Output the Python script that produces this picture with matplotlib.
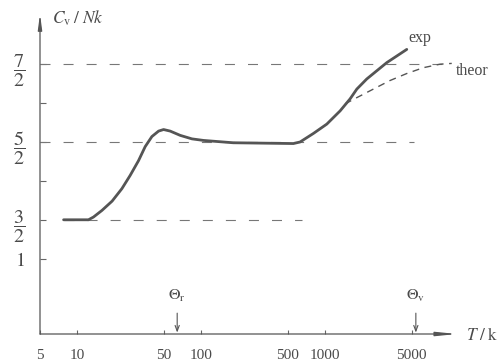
import numpy as np
import matplotlib
matplotlib.use("Agg")
import matplotlib.pyplot as plt

plt.rcParams["font.family"] = ["Liberation Serif", "DejaVu Serif"]
plt.rcParams["mathtext.fontset"] = "stix"
plt.rcParams["lines.scale_dashes"] = False

# measured heat capacity of the diatomic gas (T in K, Cv/Nk)
T_exp = [7.75, 12.3, 13.5, 15.8, 19.1, 22.9, 26.7, 31.2, 35.3, 40.0, 45.3,
         49.7, 56.2, 67.7, 84.2, 104.4, 181, 555, 628, 805, 1032, 1322,
         1592, 1803, 2169, 2611, 3145, 3788, 4561]
cv_exp = [1.5, 1.5, 1.535, 1.62, 1.74, 1.9, 2.07, 2.26, 2.44, 2.57, 2.64,
          2.66, 2.64, 2.585, 2.54, 2.52, 2.49, 2.48, 2.5, 2.61, 2.73, 2.9,
          3.055, 3.18, 3.31, 3.415, 3.52, 3.605, 3.69]

# theoretical vibrational contribution
T_theor = [1449, 1803, 2452, 3342, 4561, 6209, 8459, 10520]
cv_theor = [2.99, 3.07, 3.18, 3.29, 3.38, 3.455, 3.5, 3.51]

# classical plateaus and their extent along T
plateau_vals = [1.5, 2.5, 3.5]
plateau_T0 = [7.75, 5.0, 5.0]
plateau_T1 = [650, 5200, 10500]

theta_r = 64
theta_v = 5400

xticks = [5, 10, 50, 100, 500, 1000, 5000]
yticks = [1, 1.5, 2, 2.5, 3, 3.5]
ylabels = [r"$1$", r"$\dfrac{3}{2}$", "", r"$\dfrac{5}{2}$", "", r"$\dfrac{7}{2}$"]

ink = "#4a4a4a"
fig = plt.figure(figsize=(5.0, 3.64), dpi=100)
ax = fig.add_axes([40 / 500, 30 / 364, 417 / 500, 320 / 364])
ax.set_xscale("log")
ax.set_xlim(5, 11600)
ax.set_ylim(0.032, 4.145)
for s in ax.spines.values():
    s.set_visible(False)

# axes with arrow heads
ax.annotate("", xy=(1, 0), xytext=(0, 0), xycoords="axes fraction",
            arrowprops=dict(arrowstyle="-|>,head_length=1.2,head_width=0.12",
                            color="#555555", lw=0.9, shrinkA=0, shrinkB=0))
ax.annotate("", xy=(0, 1), xytext=(0, 0), xycoords="axes fraction",
            arrowprops=dict(arrowstyle="-|>,head_length=0.9,head_width=0.12",
                            color="#555555", lw=0.9, shrinkA=0, shrinkB=0))

ax.set_xticks(xticks)
ax.set_xticklabels([str(v) for v in xticks])
ax.xaxis.set_minor_locator(matplotlib.ticker.NullLocator())
ax.set_yticks(yticks)
ax.set_yticklabels(ylabels)
ax.tick_params(axis="x", direction="in", length=3, width=0.8, colors="#666666",
               labelcolor=ink, labelsize=11, pad=10.5)
ax.tick_params(axis="y", direction="in", length=4, width=0.8, colors="#666666",
               labelcolor=ink, labelsize=14.5, pad=11)

for v, t0, t1 in zip(plateau_vals, plateau_T0, plateau_T1):
    ax.plot([t0, t1], [v, v], color="#777777", lw=0.8, dashes=(7.2, 9.4))

ax.plot(T_theor, cv_theor, color="#555555", lw=1.0, dashes=(5, 4))
ax.plot(T_exp, cv_exp, color="#555555", lw=2.0, solid_capstyle="round",
        solid_joinstyle="round")

ax.text(4700, 3.84, "exp", fontsize=11.5, color=ink, ha="left", va="center")
ax.text(11300, 3.41, "theor", fontsize=11.5, color=ink, ha="left", va="center")

for T0, lab in [(theta_r, r"$\Theta_{\mathrm{r}}$"), (theta_v, r"$\Theta_{\mathrm{v}}$")]:
    ax.annotate("", xy=(T0, 0.05), xytext=(T0, 0.3),
                arrowprops=dict(arrowstyle="->,head_length=0.4,head_width=0.15",
                                color="#555555", lw=0.8, shrinkA=0, shrinkB=0))
    ax.text(T0, 0.52, lab, fontsize=11.5, color=ink, ha="center", va="center")

fig.text(52 / 500, 1 - 18 / 364, r"$C_{\mathrm{v}}\;/\;Nk$", fontsize=12.5,
         color=ink, ha="left", va="center")
fig.text(466 / 500, 1 - 335 / 364, r"$T\;/\;\mathrm{k}$", fontsize=12.5,
         color=ink, ha="left", va="center")

fig.savefig("out.png", dpi=100, facecolor="white")
